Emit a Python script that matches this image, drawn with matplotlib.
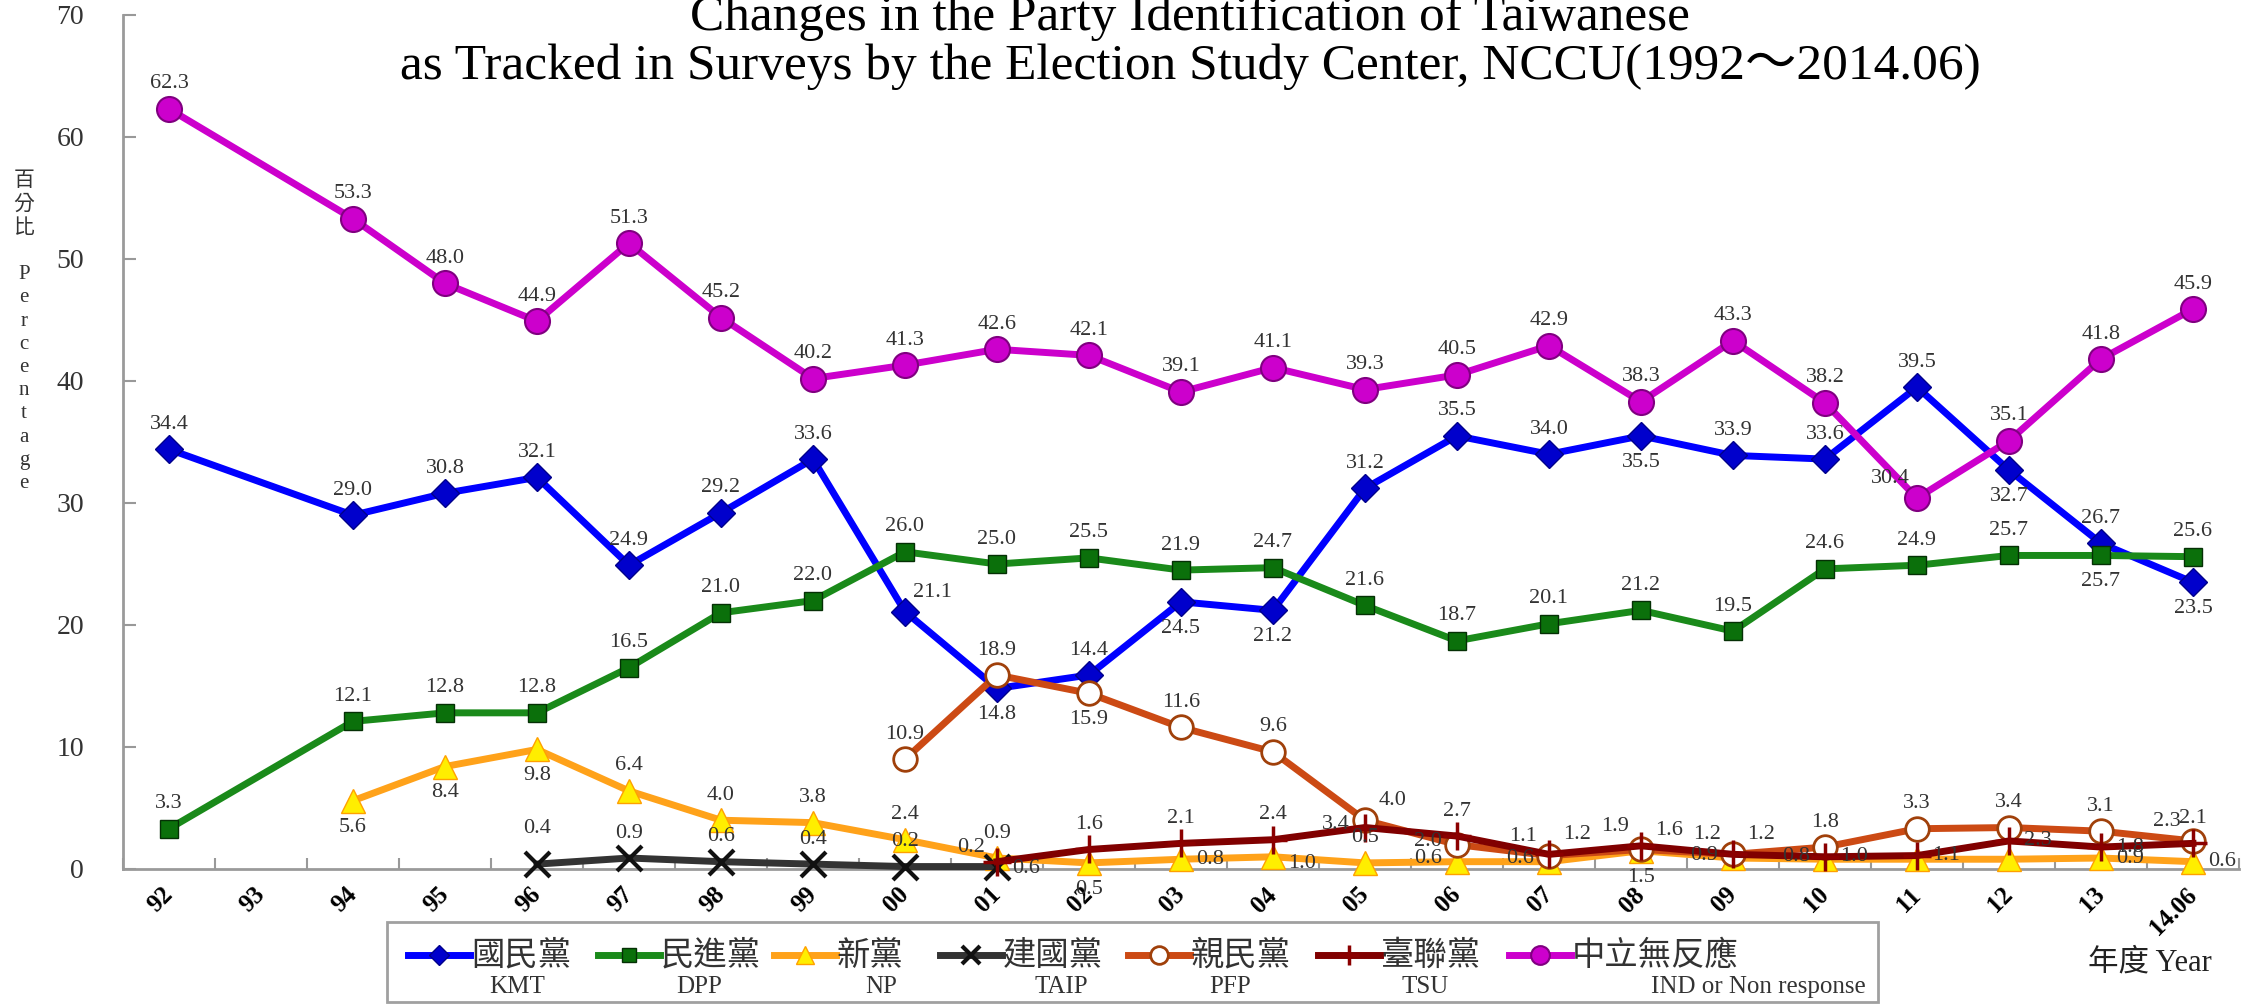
import numpy as np
import matplotlib
matplotlib.use("Agg")
import matplotlib.pyplot as plt
from matplotlib.lines import Line2D
from matplotlib.patches import Rectangle

nan = np.nan
SERIF = ['Liberation Serif', 'Noto Sans CJK TC']
CJK = ['Noto Sans CJK TC', 'DejaVu Sans']

# catégories (années)
years = ['92', '93', '94', '95', '96', '97', '98', '99', '00', '01', '02', '03',
         '04', '05', '06', '07', '08', '09', '10', '11', '12', '13', '14.06']

kmt = [34.4, nan, 29.0, 30.8, 32.1, 24.9, 29.2, 33.6, 21.1, 14.8, 15.9, 21.9,
       21.2, 31.2, 35.5, 34.0, 35.5, 33.9, 33.6, 39.5, 32.7, 26.7, 23.5]
dpp = [3.3, nan, 12.1, 12.8, 12.8, 16.5, 21.0, 22.0, 26.0, 25.0, 25.5, 24.5,
       24.7, 21.6, 18.7, 20.1, 21.2, 19.5, 24.6, 24.9, 25.7, 25.7, 25.6]
np_party = [nan, nan, 5.6, 8.4, 9.8, 6.4, 4.0, 3.8, 2.4, 0.9, 0.5, 0.8,
            1.0, 0.5, 0.6, 0.6, 1.5, 0.9, 0.8, 0.8, 0.8, 0.9, 0.6]
taip = [nan, nan, nan, nan, 0.4, 0.9, 0.6, 0.4, 0.2, 0.2, nan, nan,
        nan, nan, nan, nan, nan, nan, nan, nan, nan, nan, nan]
pfp = [nan, nan, nan, nan, nan, nan, nan, nan, 9.0, 15.9, 14.4, 11.6,
       9.6, 4.0, 2.0, 1.1, 1.6, 1.2, 1.8, 3.3, 3.4, 3.1, 2.3]
tsu = [nan, nan, nan, nan, nan, nan, nan, nan, nan, 0.6, 1.6, 2.1,
       2.4, 3.4, 2.7, 1.2, 1.9, 1.2, 1.0, 1.1, 2.3, 1.8, 2.1]
ind = [62.3, nan, 53.3, 48.0, 44.9, 51.3, 45.2, 40.2, 41.3, 42.6, 42.1, 39.1,
       41.1, 39.3, 40.5, 42.9, 38.3, 43.3, 38.2, 30.4, 35.1, 41.8, 45.9]

# étiquettes telles qu'écrites sur le graphique d'origine
kmt_lab = ['34.4', '', '29.0', '30.8', '32.1', '24.9', '29.2', '33.6', '21.1', '14.8', '14.4', '24.5',
           '21.2', '31.2', '35.5', '34.0', '35.5', '33.9', '33.6', '39.5', '32.7', '26.7', '23.5']
dpp_lab = ['3.3', '', '12.1', '12.8', '12.8', '16.5', '21.0', '22.0', '26.0', '25.0', '25.5', '21.9',
           '24.7', '21.6', '18.7', '20.1', '21.2', '19.5', '24.6', '24.9', '25.7', '25.7', '25.6']
np_lab = ['', '', '5.6', '8.4', '9.8', '6.4', '4.0', '3.8', '2.4', '0.9', '0.5', '0.8',
          '1.0', '0.5', '0.6', '0.6', '1.5', '0.9', '0.8', '', '', '0.9', '0.6']
taip_lab = ['', '', '', '', '0.4', '0.9', '0.6', '0.4', '0.2', '0.2', '', '',
            '', '', '', '', '', '', '', '', '', '', '']
pfp_lab = ['', '', '', '', '', '', '', '', '10.9', '18.9', '15.9', '11.6',
           '9.6', '4.0', '2.0', '1.1', '1.6', '1.2', '1.8', '3.3', '3.4', '3.1', '2.3']
tsu_lab = ['', '', '', '', '', '', '', '', '', '0.6', '1.6', '2.1',
           '2.4', '3.4', '2.7', '1.2', '1.9', '1.2', '1.0', '1.1', '2.3', '1.8', '2.1']
ind_lab = ['62.3', '', '53.3', '48.0', '44.9', '51.3', '45.2', '40.2', '41.3', '42.6', '42.1', '39.1',
           '41.1', '39.3', '40.5', '42.9', '38.3', '43.3', '38.2', '30.4', '35.1', '41.8', '45.9']

names_zh = ['國民黨', '民進黨', '新黨', '建國黨', '親民黨', '臺聯黨', '中立無反應']
names_en = ['KMT', 'DPP', 'NP', 'TAIP', 'PFP', 'TSU', 'IND or Non response']

# placement des étiquettes (a=dessus, b=dessous, l/r=gauche/droite)
pos_kmt = 'a a a a a a a a ar b a b b a a a b a a a b a b'.split()
pos_dpp = ['a'] * 21 + ['b', 'a']
pos_np = 'a a b b b a a a a a b r br a l l b l l a a r r'.split()
pos_taip = 'a a a a a2 a a a a al a a a a a a a a a a a a a'.split()
pos_pfp = 'a a a a a a a a a a b a a ar l al ar al a a a a al'.split()
pos_tsu = 'a a a a a a a a a br a a a l a ar al ar r r r r a'.split()
pos_ind = 'a a a a a a a a a a a a a a a a a a a al a a a'.split()

OFF = {'a': (0, 18), 'a2': (0, 26), 'b': (0, -19), 'l': (-21, 2), 'r': (21, 0),
       'al': (-19, 14), 'ar': (20, 14), 'br': (21, -5)}

styles = [
    dict(color='#0000ff', marker='D', ms=14, mfc='#0000cc', mec='#00008b'),
    dict(color='#1a8a1a', marker='s', ms=13, mfc='#0b700b', mec='#053005'),
    dict(color='#ffa21a', marker='^', ms=17, mfc='#ffee00', mec='#ffa000'),
    dict(color='#333333', marker='x', ms=18, mfc='#000000', mec='#111111', mew=3),
    dict(color='#cc4a14', marker='o', ms=17, mfc='white', mec='#a0400a', mew=2),
    dict(color='#800000', marker='+', ms=20, mfc='#8b0000', mec='#8b0000', mew=2.5),
    dict(color='#cc00cc', marker='o', ms=18, mfc='#cc00cc', mec='#800080', mew=1.5),
]
series = [kmt, dpp, np_party, taip, pfp, tsu, ind]
labels = [kmt_lab, dpp_lab, np_lab, taip_lab, pfp_lab, tsu_lab, ind_lab]
positions = [pos_kmt, pos_dpp, pos_np, pos_taip, pos_pfp, pos_tsu, pos_ind]

W, H = 2267, 1005
fig = plt.figure(figsize=(W / 100, H / 100), dpi=100)
ax = fig.add_axes([123 / W, 1 - 869 / H, (2239 - 123) / W, (869 - 15) / H])

x = np.arange(len(years))
for vals, labs, pos, st in zip(series, labels, positions, styles):
    v = np.array(vals, dtype=float)
    m = ~np.isnan(v)
    ax.plot(x[m], v[m], lw=5, clip_on=False, zorder=3, **st)
    for i in np.where(m)[0]:
        if labs[i]:
            dx, dy = OFF[pos[i]]
            ax.annotate(labs[i], (x[i], v[i]), xytext=(dx, dy), textcoords='offset points',
                        ha='center', va='center', fontsize=16, family=SERIF,
                        color='#333333', zorder=5)

ax.set_xlim(-0.5, len(years) - 0.5)
ax.set_ylim(0, 70)
ax.set_yticks(range(0, 71, 10))
ax.set_xticks(x)
ax.set_xticklabels(years, rotation=45, fontsize=18, fontweight='bold', family=SERIF,
                   ha='right', va='center', rotation_mode='anchor')
ax.set_xticks(np.arange(-0.5, len(years)), minor=True)
ax.tick_params(axis='x', which='major', length=0, pad=16)
ax.tick_params(axis='x', which='minor', direction='in', length=8, color='#999999', width=1.5)
ax.tick_params(axis='y', direction='in', length=9, color='#999999', width=1.5,
               labelsize=20, labelcolor='#333333', pad=28)
for t in ax.get_yticklabels():
    t.set_family(SERIF)
for s in ['top', 'right']:
    ax.spines[s].set_visible(False)
for s in ['left', 'bottom']:
    ax.spines[s].set_color('#9a9a9a')
    ax.spines[s].set_linewidth(2)

# titre
fig.text(0.525, 1 - 30 / H, 'Changes in the Party Identification of Taiwanese',
         ha='center', va='baseline', fontsize=37, family=SERIF)
fig.text(0.525, 1 - 79 / H, 'as Tracked in Surveys by the Election Study Center, NCCU(1992～2014.06)',
         ha='center', va='baseline', fontsize=37, family=SERIF)

# axe y vertical
fig.text(24 / W, 1 - 172 / H, '百\n分\n比\n\nP\ne\nr\nc\ne\nn\nt\na\ng\ne',
         ha='center', va='top', fontsize=15, linespacing=1.3, family=SERIF, color='#333333')
fig.text(2150 / W, 1 - 963 / H, '年度 Year', ha='center', va='center', fontsize=22,
         family=SERIF, color='#222222')

# légende faite à la main
fig.add_artist(Rectangle((387 / W, 1 - 1002 / H), (1878 - 387) / W, (1002 - 922) / H,
                         transform=fig.transFigure, fill=False, ec='#a0a0a0', lw=2))
handle_x = [408, 598, 774, 940, 1128, 1318, 1509]
en_x = [517, 699, 881, 1061, 1230, 1425, 1758]
row_zh = 1 - 955 / H
row_en = 1 - 987 / H
for hx, ex, zh, en, st in zip(handle_x, en_x, names_zh, names_en, styles):
    fig.add_artist(Line2D([hx / W, (hx + 62) / W], [row_zh, row_zh], transform=fig.transFigure,
                          color=st['color'], lw=5))
    mk = {k: v for k, v in st.items() if k != 'color'}
    mk['ms'] = mk['ms'] * 0.75
    fig.add_artist(Line2D([(hx + 31) / W], [row_zh], transform=fig.transFigure, lw=0,
                          color=st['color'], **mk))
    fig.text((hx + 63) / W, row_zh, zh, ha='left', va='center', fontsize=24, family=CJK,
             color='#333333')
    fig.text(ex / W, row_en, en, ha='center', va='center', fontsize=18, family=SERIF,
             color='#333333')

fig.savefig('out.png', dpi=100)
